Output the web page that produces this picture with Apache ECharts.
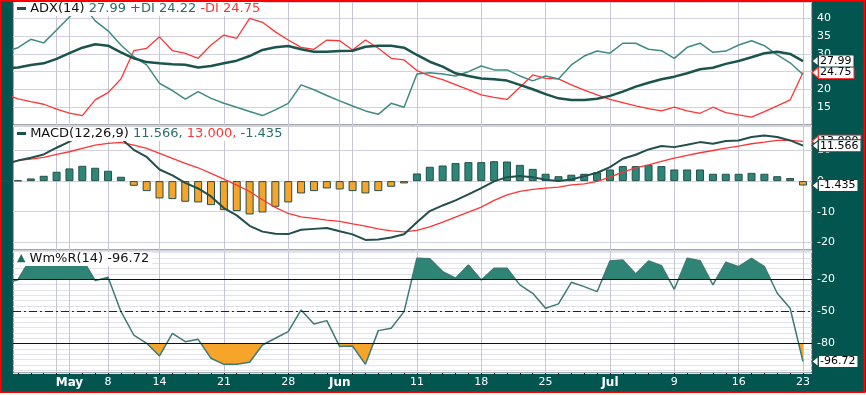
<!DOCTYPE html>
<html><head><meta charset="utf-8">
<script src="https://cdn.jsdelivr.net/npm/echarts@6/dist/echarts.min.js"></script>
<style>html,body{margin:0;padding:0;background:#fff}#c{width:866px;height:395px}</style>
</head><body><div id="c"></div>
<script>
// ---- data (trading-day index 0..62, Apr 24 .. Jul 23) ----
const labelIdx  = [5, 8, 12, 17, 22, 26, 32, 37, 42, 47, 52, 57, 62];
const labelText = ['May', '8', '14', '21', '28', 'Jun', '11', '18', '25', 'Jul', '9', '16', '23'];
const monthLabels = ['May', 'Jun', 'Jul'];
const gridIdx   = [4, 5, 8, 12, 17, 22, 26, 27, 32, 37, 42, 47, 52, 57, 62];

const adx = [25.95, 26.2, 26.9, 27.35, 28.6, 30.2, 31.75, 32.7, 32.3, 30.45,
  28.76, 27.7, 27.35, 27.1, 26.97, 26.2, 26.6, 27.35, 28.1, 29.4,
  31.1, 31.85, 32.2, 31.3, 30.6, 30.6, 30.8, 30.9, 32.0, 32.3,
  32.3, 31.75, 29.7, 27.8, 26.4, 24.55, 23.8, 23.1, 22.85, 22.5,
  21.3, 20.05, 18.7, 17.5, 17.05, 17.05, 17.4, 18.2, 19.4, 20.8,
  21.9, 22.85, 23.6, 24.55, 25.7, 26.1, 27.2, 28.0, 29.05, 30.2,
  30.6, 30.0, 27.99];
const plusDI = [30.6, 31.75, 34.1, 33.1, 36.7, 40.4, 44.0, 39.3, 36.5, 32.5,
  29.2, 26.9, 21.7, 19.7, 17.25, 19.4, 17.5, 16.1, 15.0, 13.8,
  12.65, 14.24, 16.1, 21.3, 19.9, 18.3, 16.8, 15.36, 13.96, 13.0,
  16.1, 15.0, 24.35, 24.7, 24.35, 23.8, 25.0, 26.6, 25.5, 25.5,
  23.8, 22.4, 23.8, 22.95, 26.9, 29.4, 30.8, 30.2, 33.0, 33.0,
  31.3, 30.9, 28.76, 31.85, 33.0, 30.45, 30.8, 32.5, 33.7, 32.3,
  29.7, 27.5, 24.22];
const minusDI = [18.65, 17.33, 16.57, 15.84, 14.44, 13.31, 12.65, 17.05, 19.1, 22.95,
  30.9, 31.57, 34.8, 30.9, 30.17, 28.76, 32.5, 35.3, 34.4, 40.0,
  38.9, 36.2, 33.9, 31.85, 31.3, 33.9, 33.7, 31.1, 33.9, 31.57,
  28.76, 28.3, 25.3, 23.8, 22.76, 21.35, 19.95, 18.46, 17.8, 17.2,
  20.6, 24.07, 23.1, 22.95, 21.3, 19.8, 18.46, 17.2, 16.3, 15.36,
  14.6, 13.96, 15.0, 13.96, 13.3, 15.0, 13.5, 12.84, 12.2, 13.77,
  15.36, 17.05, 24.75];

const macd = [5.5, 6.7, 7.6, 8.7, 10.9, 12.9, 15.2, 15.9, 15.6, 14.0,
  10.2, 7.9, 3.8, 1.9, -0.6, -2.4, -5.0, -8.8, -11.2, -14.6,
  -16.5, -17.2, -17.3, -15.9, -15.6, -15.3, -16.4, -17.4, -19.2, -19.1,
  -18.4, -17.35, -13.45, -9.8, -7.95, -6.3, -4.36, -2.29, -0.1, 1.3,
  1.63, 1.3, 0.44, 0.0, 0.54, 1.63, 2.72, 4.58, 7.3, 8.6,
  10.35, 11.44, 11.1, 11.87, 12.74, 12.2, 13.07, 13.29, 14.38, 14.92,
  14.38, 13.29, 11.566];
const signal = [5.56, 6.75, 7.19, 7.73, 8.71, 9.59, 10.68, 11.76, 12.31, 12.64,
  11.76, 10.68, 9.04, 7.41, 5.77, 4.36, 2.5, 0.65, -1.31, -3.38,
  -6.1, -8.6, -10.57, -11.66, -12.2, -12.75, -13.18, -13.94, -14.7, -15.58,
  -16.23, -16.56, -16.12, -14.92, -13.4, -11.76, -10.13, -8.5, -6.3, -4.47,
  -3.38, -2.72, -2.29, -1.96, -1.2, -0.87, -0.1, 1.3, 2.94, 4.36,
  5.34, 6.43, 7.52, 8.39, 9.26, 10.0, 10.78, 11.44, 12.2, 12.74,
  13.29, 13.29, 13.0];
const hist = [0, 0.2, 0.87, 1.74, 3.05, 4.14, 5.0, 4.36, 3.38, 1.42,
  -1.53, -3.27, -5.66, -5.88, -6.75, -6.97, -7.84, -9.48, -9.8, -10.9,
  -10.24, -8.39, -6.97, -4.03, -3.27, -2.4, -2.72, -3.27, -4.03, -3.27,
  -1.85, -0.76, 2.5, 4.68, 5.1, 5.9, 6.2, 6.2, 6.5, 6.4,
  5.3, 4.0, 2.4, 1.6, 2.1, 2.4, 2.9, 3.8, 4.9, 4.9,
  5.3, 4.9, 3.8, 3.8, 3.8, 2.4, 2.4, 2.4, 2.7, 2.4,
  1.6, 1.0, -1.435];

const wmr = [-24, -20.5, -0.5, 0, 0, 0, -1, -21.3, -18.2, -50,
  -72, -79.7, -91.5, -70.4, -78.2, -76, -93.7, -99.3, -99.3, -97.4,
  -81.3, -75, -68.8, -48.6, -61.7, -58.6, -82.8, -82.2, -99.3, -67.9,
  -65.7, -50.2, -0.5, -1, -12.9, -19.1, -6.7, -20.7, -9.8, -9.8,
  -25.3, -33.1, -47.1, -43, -22.9, -26.9, -31.6, -3, -2, -15.1,
  -3, -7.3, -29.4, -0.5, -2.7, -25.3, -4.2, -8.3, -0.5, -8.3,
  -33.1, -47.1, -96.72];

const adxTicks = [15, 20, 25, 30, 35, 40];
const macdTicks = [-20, -10, 0, 10];
const wmrTicks = [-20, -50, -80];
const wmrUpper = -20, wmrMid = -50, wmrLower = -80;

// ---- styling ----
const FONT = 'DejaVu Sans';
const BG = '#03564f';
const GRIDLINE = '#d2d2df';
const VLINE = '#c6c6d6';
const BORDER = '#4a4f5c';
const TEAL_BAR = '#2d8677';
const TEAL_FILL = '#2e8576';
const ORANGE = '#f6a52a';
const RED = '#ff3535';
const TAGDARK = '#1b4a45';
const X_MIN = 0.614, X_MAX = 62.7;
const TITLE_FS = 13;

const pairs = arr => arr.map((v, i) => [i, v]);
const last = arr => arr[arr.length - 1];
const dayTicks = adx.map((_, i) => i).filter(i => i > 0);

function tag(border, digits) {
  return {
    show: true, distance: 16,
    formatter: p => p.value[1].toFixed(digits),
    color: '#000', fontSize: 11, fontFamily: FONT,
    backgroundColor: '#fff', borderColor: border, borderWidth: 1,
    padding: [1, 2, 0, 1], lineHeight: 10
  };
}
// small left-pointing arrow of the value tag, anchored on the last data point
function tagPointer(arr, border) {
  return {
    silent: true, symbol: 'triangle', symbolSize: [10, 6], symbolRotate: 90, symbolOffset: [12, 0],
    itemStyle: { color: '#fff', borderColor: border, borderWidth: 1 },
    label: { show: false },
    data: [{ coord: [arr.length - 1, last(arr)] }]
  };
}

function xAx(gridIndex, extra) {
  return Object.assign({
    type: 'value', gridIndex, min: X_MIN, max: X_MAX,
    axisLine: { show: false },
    axisTick: { show: false, customValues: gridIdx },
    axisLabel: { show: false },
    splitLine: { show: true, lineStyle: { color: VLINE, width: 1 } }
  }, extra || {});
}

function yAx(gridIndex, min, max, step, labels, gridColor) {
  return {
    type: 'value', gridIndex, position: 'right', min, max,
    minInterval: step, maxInterval: step,
    axisLine: { show: false }, axisTick: { show: false },
    axisLabel: { customValues: labels, color: '#fff', fontSize: 11, fontFamily: FONT, margin: 5 },
    splitLine: { show: true, lineStyle: { color: gridColor, width: 1 } }
  };
}

// area between the Wm%R line and a threshold, only on one side of it
function bandFill(base, above, color) {
  return {
    type: 'custom', xAxisIndex: 2, yAxisIndex: 2, clip: true, silent: true, z: 2,
    data: [[0, base]],
    renderItem: (params, api) => {
      const pts = [];
      const n = wmr.length;
      for (let i = 0; i < n; i++) {
        const v = wmr[i];
        pts.push(api.coord([i, above ? Math.max(v, base) : Math.min(v, base)]));
        if (i < n - 1) {
          const w = wmr[i + 1];
          if ((v - base) * (w - base) < 0) {
            pts.push(api.coord([i + (base - v) / (w - v), base]));
          }
        }
      }
      pts.push(api.coord([n - 1, base]));
      pts.push(api.coord([0, base]));
      const cs = params.coordSys;
      return {
        type: 'group',
        clipPath: { type: 'rect', shape: { x: cs.x, y: cs.y, width: cs.width, height: cs.height } },
        children: [{ type: 'polygon', shape: { points: pts }, style: { fill: color, stroke: null, lineWidth: 0 } }]
      };
    }
  };
}

function titleStyle() {
  return {
    fontFamily: FONT, fontSize: TITLE_FS, fontWeight: 'normal',
    rich: {
      d: { width: 9, height: 3, backgroundColor: '#1b534d' },
      i: { color: '#1f6e64', fontSize: 11, fontFamily: FONT },
      k: { color: '#111', fontSize: TITLE_FS, fontFamily: FONT },
      t: { color: '#2b6e68', fontSize: TITLE_FS, fontFamily: FONT },
      r: { color: RED, fontSize: TITLE_FS, fontFamily: FONT }
    }
  };
}

const gridBase = { left: 13, right: 54, show: true, backgroundColor: '#fff', borderColor: BORDER, borderWidth: 1 };

const option = {
  animation: false,
  backgroundColor: BG,
  textStyle: { fontFamily: FONT },
  grid: [
    Object.assign({ top: 2, height: 123 }, gridBase),
    Object.assign({ top: 126, height: 124 }, gridBase),
    Object.assign({ top: 251, height: 122 }, gridBase)
  ],
  xAxis: [
    xAx(0), xAx(1),
    xAx(2, {
      axisLabel: {
        show: true, customValues: labelIdx, color: '#fff', fontSize: 11, fontFamily: FONT, margin: 4,
        formatter: v => {
          const t = labelText[labelIdx.indexOf(Math.round(v))];
          return monthLabels.includes(t) ? '{m|' + t + '}' : t;
        },
        rich: { m: { fontWeight: 'bold', fontSize: 12, color: '#fff', fontFamily: FONT } }
      }
    }),
    {
      type: 'value', gridIndex: 2, min: X_MIN, max: X_MAX, position: 'bottom',
      axisLine: { show: false }, axisLabel: { show: false }, splitLine: { show: false },
      axisTick: { show: true, customValues: dayTicks, length: 2, lineStyle: { color: '#1a1a1a', width: 1 } }
    }
  ],
  yAxis: [
    yAx(0, 10, 44.6, 5, adxTicks, GRIDLINE),
    yAx(1, -22.5, 18, 10, macdTicks, GRIDLINE),
    yAx(2, -107.4, 6.3, 5, wmrTicks, '#e2e2ea')
  ],
  title: [
    {
      left: 15, top: 2, padding: [0, 3, 1, 2], backgroundColor: '#fff',
      text: '{d|}{k| ADX(14) }{t|' + last(adx).toFixed(2) + ' +DI ' + last(plusDI).toFixed(2) + ' }{r|-DI ' + last(minusDI).toFixed(2) + '}',
      textStyle: titleStyle()
    },
    {
      left: 15, top: 127, padding: [0, 3, 1, 2], backgroundColor: '#fff',
      text: '{d|}{k| MACD(12,26,9) }{t|' + last(macd).toFixed(3) + ', }{r|' + last(signal).toFixed(3) + ', }{t|' + last(hist).toFixed(3) + '}',
      textStyle: titleStyle()
    },
    {
      left: 15, top: 252, padding: [0, 3, 1, 2], backgroundColor: '#fff',
      text: '{i|▲}{k| Wm%R(14) ' + last(wmr).toFixed(2) + '}',
      textStyle: titleStyle()
    }
  ],
  series: [
    { type: 'line', name: '-DI', xAxisIndex: 0, yAxisIndex: 0, data: pairs(minusDI), showSymbol: false, z: 3,
      lineStyle: { color: RED, width: 1.3 }, itemStyle: { color: RED }, endLabel: tag(RED, 2),
      markPoint: tagPointer(minusDI, RED) },
    { type: 'line', name: '+DI', xAxisIndex: 0, yAxisIndex: 0, data: pairs(plusDI), showSymbol: false, z: 3,
      lineStyle: { color: '#3f8a83', width: 1.5 }, itemStyle: { color: '#3f8a83' } },
    { type: 'line', name: 'ADX', xAxisIndex: 0, yAxisIndex: 0, data: pairs(adx), showSymbol: false, z: 4,
      lineStyle: { color: '#1b534d', width: 2.5 }, itemStyle: { color: '#1b534d' }, endLabel: tag(TAGDARK, 2),
      markPoint: tagPointer(adx, TAGDARK) },

    { type: 'bar', name: 'Hist', xAxisIndex: 1, yAxisIndex: 1, data: pairs(hist), barWidth: 8, z: 2,
      itemStyle: { color: p => p.value[1] >= 0 ? TEAL_BAR : ORANGE, borderColor: '#24504b', borderWidth: 1 } },
    { type: 'line', name: 'Signal', xAxisIndex: 1, yAxisIndex: 1, data: pairs(signal), showSymbol: false, z: 3,
      lineStyle: { color: RED, width: 1.3 }, itemStyle: { color: RED }, endLabel: tag(RED, 3),
      markPoint: tagPointer(signal, RED) },
    { type: 'line', name: 'MACD', xAxisIndex: 1, yAxisIndex: 1, data: pairs(macd), showSymbol: false, z: 5,
      lineStyle: { color: '#224f4b', width: 2 }, itemStyle: { color: '#224f4b' }, endLabel: tag(TAGDARK, 3),
      markPoint: tagPointer(macd, TAGDARK) },
    { type: 'line', name: 'HistTag', xAxisIndex: 1, yAxisIndex: 1, data: pairs(hist), showSymbol: false, z: 5, silent: true,
      lineStyle: { opacity: 0 }, itemStyle: { color: TEAL_BAR }, endLabel: tag(TAGDARK, 3),
      markPoint: tagPointer(hist, TAGDARK) },

    bandFill(wmrUpper, true, TEAL_FILL),
    bandFill(wmrLower, false, ORANGE),
    { type: 'line', name: 'Wm%R', xAxisIndex: 2, yAxisIndex: 2, data: pairs(wmr), showSymbol: false, z: 4,
      lineStyle: { color: '#3c7a75', width: 1.5 }, itemStyle: { color: '#3c7a75' }, endLabel: tag(TAGDARK, 2),
      markPoint: tagPointer(wmr, TAGDARK),
      markLine: {
        silent: true, symbol: 'none', label: { show: false },
        lineStyle: { color: '#111', width: 1.2, type: 'solid' },
        data: [
          { yAxis: wmrUpper },
          { yAxis: wmrLower },
          { yAxis: wmrMid, lineStyle: { color: '#222', width: 1.2, type: [8, 3, 2, 3] } }
        ]
      } }
  ],
  graphic: [
    { type: 'rect', z: 100, silent: true, shape: { x: 0, y: 392.5, width: 866, height: 3 }, style: { fill: '#fff' } },
    { type: 'rect', z: 101, silent: true, shape: { x: 0.75, y: 0.75, width: 863.5, height: 391.5 }, style: { fill: 'none', stroke: '#ff0000', lineWidth: 1.5 } }
  ]
};

const chart = echarts.init(document.getElementById('c'));
chart.setOption(option);
</script></body></html>
